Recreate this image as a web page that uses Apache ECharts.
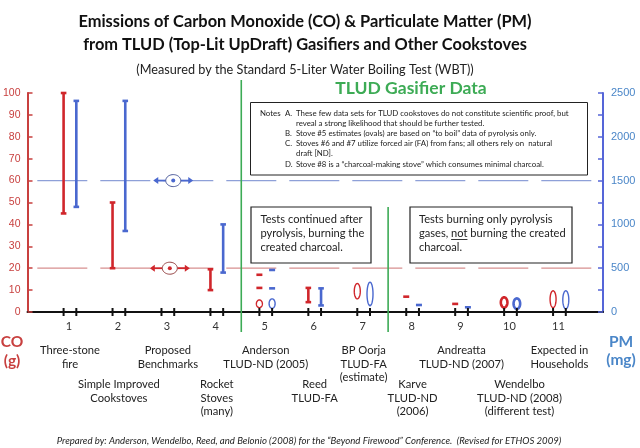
<!DOCTYPE html>
<html><head><meta charset="utf-8">
<script src="https://cdn.jsdelivr.net/npm/echarts@6/dist/echarts.min.js"></script>
<style>html,body{margin:0;padding:0;background:#fff}#c{width:640px;height:448px}</style>
</head><body><div id="c"></div>
<script>
// ---------- data ----------
const categories = ['1','2','3','4','5','6','7','8','9','10','11'];
const stoveNames = ['Three-stone\nfire','Simple Improved\nCookstoves','Proposed\nBenchmarks','Rocket\nStoves\n(many)',
  'Anderson\nTLUD-ND (2005)','Reed\nTLUD-FA','BP Oorja\nTLUD-FA\n(estimate)','Karve\nTLUD-ND\n(2006)',
  'Andreatta\nTLUD-ND (2007)','Wendelbo\nTLUD-ND (2008)\n(different test)','Expected in\nHouseholds'];
const coTicks = [0,10,20,30,40,50,60,70,80,90,100];
const pmTicks = [0,500,1000,1500,2000,2500];
// [stove, low, high]
const coBars = [[1,45,100],[2,20,50],[4,10,19.5],[6,4.5,11]];
const pmBars = [[1,1200,2410],[2,925,2410],[4,450,1000],[6,75,270]];
const coOvals = [[5,2,5.5],[7,6,13],[10,2,6.7],[11,2,9.7]];
const pmOvals = [[5,42,150],[7,72,340],[10,35,155],[11,35,243]];
// [stove, value]
const coDashes = [[5,17],[5,11],[8,7],[9,3.7]];
const pmDashes = [[5,480],[5,270],[8,80],[9,54]];
const coBenchmark = [[3,20]];
const pmBenchmark = [[3,1500]];
const coReference = [[20]];
const pmReference = [[1500]];
const groupDividers = [[4.5],[7.5]];

// ---------- rendering ----------
const RED = '#d0262b', BLUE = '#4a68cf', GREEN = '#3dab55';
const RED_T = '#c8403f', BLUE_T = '#4a86c8';
const FONT = 'Lato, "Open Sans", sans-serif';
const OFF = 0.13, XMIN = 0.133, XMAX = 11.89;

function ellipse(cx, cy, rx, ry){
  const pts=[]; for(let i=0;i<40;i++){const a=i/40*2*Math.PI; pts.push([cx+rx*Math.cos(a), cy+ry*Math.sin(a)]);} return pts;
}
const barR = (color, off) => (p, api) => {
  const x = api.value(0)+off;
  const a = api.coord([x, api.value(1)]), b = api.coord([x, api.value(2)]);
  const ls = {stroke: color, lineWidth: 2.6};
  return {type:'group', children:[
    {type:'line', shape:{x1:a[0],y1:a[1],x2:b[0],y2:b[1]}, style:ls},
    {type:'line', shape:{x1:a[0]-2.8,y1:a[1],x2:a[0]+2.8,y2:a[1]}, style:ls},
    {type:'line', shape:{x1:b[0]-2.8,y1:b[1],x2:b[0]+2.8,y2:b[1]}, style:ls}]};
};
const dashR = (color, off) => (p, api) => {
  const c = api.coord([api.value(0)+off, api.value(1)]);
  return {type:'line', shape:{x1:c[0]-3,y1:c[1],x2:c[0]+3,y2:c[1]}, style:{stroke:color, lineWidth:2.6}};
};
const ovalR = (color, off) => (p, api) => {
  const x = api.value(0)+off;
  const a = api.coord([x, api.value(1)]), b = api.coord([x, api.value(2)]);
  const bold = api.value(0) === 10;
  return {type:'polygon', shape:{points: ellipse(a[0], (a[1]+b[1])/2, bold?3.3:3, (a[1]-b[1])/2)},
    style:{fill:'none', stroke:color, lineWidth: bold?2.6:1.4}};
};
const benchR = (color, outline, off) => (p, api) => {
  const c = api.coord([api.value(0)+off, api.value(1)]);
  const ls = {stroke:color, lineWidth:1.8};
  const x=c[0], y=c[1];
  return {type:'group', children:[
    {type:'line', shape:{x1:x-7.5,y1:y,x2:x-18,y2:y}, style:ls},
    {type:'line', shape:{x1:x+7.5,y1:y,x2:x+18,y2:y}, style:ls},
    {type:'polygon', shape:{points:[[x-20,y],[x-15,y-3.5],[x-15,y+3.5]]}, style:{fill:color}},
    {type:'polygon', shape:{points:[[x+20,y],[x+15,y-3.5],[x+15,y+3.5]]}, style:{fill:color}},
    {type:'polygon', shape:{points:ellipse(x,y,7.5,6)}, style:{fill:'#fff', stroke:outline, lineWidth:0.9}},
    {type:'circle', shape:{cx:x, cy:y, r:2}, style:{fill:color}}]};
};
const refR = (color) => (p, api) => {
  const a = api.coord([XMIN+0.2, api.value(0)]), b = api.coord([XMAX, api.value(0)]);
  return {type:'line', shape:{x1:a[0],y1:a[1],x2:b[0],y2:b[1]}, style:{stroke:color, lineWidth:1.3, lineDash:[50,13]}};
};
const dividerR = (p, api) => {
  const c = api.coord([api.value(0), 0]);
  const top = p.dataIndex === 0 ? 80 : 207;
  return {type:'line', shape:{x1:c[0],y1:top,x2:c[0],y2:c[1]+20}, style:{stroke:GREEN, lineWidth:1.6}};
};
const xLabelR = (p, api) => {
  const i = p.dataIndex, v = i+1;
  const a = api.coord([v-OFF, 0]), b = api.coord([v+OFF, 0]);
  const y = a[1];
  const ls = {stroke:'#111', lineWidth:2};
  const nameX = (a[0]+b[0])/2 + (i===9 ? 9 : 0);
  const nameTop = (i%2===0) ? 343.5 : 377.5;
  return {type:'group', children:[
    {type:'line', shape:{x1:a[0],y1:y-4,x2:a[0],y2:y+4}, style:ls},
    {type:'line', shape:{x1:b[0],y1:y-4,x2:b[0],y2:y+4}, style:ls},
    {type:'text', style:{text:categories[i], x:(a[0]+b[0])/2-1, y:y+14, align:'center', verticalAlign:'middle',
      fill:'#333', fontSize:11, fontFamily:FONT}},
    {type:'text', style:{text:stoveNames[i], x:nameX, y:nameTop, align:'center', verticalAlign:'top',
      fill:'#222', fontSize:11.2, fontFamily:FONT, lineHeight:13.6}}]};
};

function cs(data, yIdx, render, encode, z){
  return {type:'custom', data, yAxisIndex:yIdx, renderItem:render, encode: encode || {x:0, y:1},
    silent:true, animation:false, clip:false, z: z||2};
}

// measure for underline
const mctx = document.createElement('canvas').getContext('2d');
const BOXF = 11.1;
mctx.font = BOXF + 'px ' + FONT;
const wGases = mctx.measureText('gases, ').width, wNot = mctx.measureText('not').width;

function txt(text, x, y, o){
  return {type:'text', silent:true, z:10, style:Object.assign({text, x, y, fill:'#222', fontFamily:FONT, fontSize:11,
    align:'left', verticalAlign:'middle'}, o||{})};
}
const NF = 7.85;
const graphics = [
  txt('Emissions of Carbon Monoxide (CO) & Particulate Matter (PM)', 305, 22, {align:'center', fontSize:16.4, fontWeight:'bold', fill:'#111'}),
  txt('from TLUD (Top-Lit UpDraft) Gasifiers and Other Cookstoves', 305, 45, {align:'center', fontSize:16.4, fontWeight:'bold', fill:'#111'}),
  txt('(Measured by the Standard 5-Liter Water Boiling Test (WBT))', 305, 70, {align:'center', fontSize:12.7, fill:'#222'}),
  txt('TLUD Gasifier Data', 411, 88, {align:'center', fontSize:17.5, fontWeight:'bold', fill:GREEN}),
  {type:'rect', shape:{x:250.5, y:102.5, width:337, height:72.5}, style:{fill:'#fff', stroke:'#222', lineWidth:1}, z:5, silent:true},
  txt('Notes', 260, 113.3, {fontSize:NF}),
  txt('A.', 285, 113.3, {fontSize:NF}),
  txt('These few data sets for TLUD cookstoves do not constitute scientific proof, but', 296, 113.3, {fontSize:NF}),
  txt('reveal a strong likelihood that should be further tested.', 296, 123.7, {fontSize:NF}),
  txt('B.', 285, 133.5, {fontSize:NF}),
  txt('Stove #5 estimates (ovals) are based on \u201cto boil\u201d data of pyrolysis only.', 296, 133.5, {fontSize:NF}),
  txt('C.', 285, 143.5, {fontSize:NF}),
  txt('Stoves #6 and #7 utilize forced air (FA) from fans; all others rely on  natural', 296, 143.5, {fontSize:NF}),
  txt('draft [ND].', 296, 153.8, {fontSize:NF}),
  txt('D.', 285, 164.7, {fontSize:NF}),
  txt('Stove #8 is a \u201ccharcoal-making stove\u201d which consumes minimal charcoal.', 296, 164.7, {fontSize:NF}),
  {type:'rect', shape:{x:251, y:207, width:120, height:56}, style:{fill:'#fff', stroke:'#222', lineWidth:1.2}, z:5, silent:true},
  txt('Tests continued after', 260.5, 219, {fontSize:BOXF}),
  txt('pyrolysis, burning the', 260.5, 233, {fontSize:BOXF}),
  txt('created charcoal.', 260.5, 247, {fontSize:BOXF}),
  {type:'rect', shape:{x:410, y:207, width:162, height:56}, style:{fill:'#fff', stroke:'#222', lineWidth:1.2}, z:5, silent:true},
  txt('Tests burning only pyrolysis', 419, 219, {fontSize:BOXF}),
  txt('gases, not burning the created', 419, 233, {fontSize:BOXF}),
  txt('charcoal.', 419, 247, {fontSize:BOXF}),
  {type:'line', z:10, silent:true, shape:{x1:419+wGases, y1:239.5, x2:419+wGases+wNot, y2:239.5}, style:{stroke:'#222', lineWidth:0.9}},
  txt('CO', 12, 342, {align:'center', fontSize:15.5, fontWeight:'bold', fill:RED_T}),
  txt('(g)', 12, 361, {align:'center', fontSize:15.5, fontWeight:'bold', fill:RED_T}),
  txt('PM', 621, 342, {align:'center', fontSize:15.5, fontWeight:'bold', fill:BLUE_T}),
  txt('(mg)', 621, 360, {align:'center', fontSize:15.5, fontWeight:'bold', fill:BLUE_T}),
  txt('Prepared by: Anderson, Wendelbo, Reed, and Belonio (2008) for the \u201cBeyond Firewood\u201d Conference.  (Revised for ETHOS 2009)',
    309, 441, {align:'center', fontSize:9.6, fontStyle:'italic', fill:'#222'})
];

const chart = echarts.init(document.getElementById('c'), null, {renderer:'canvas'});
chart.setOption({
  animation:false,
  backgroundColor:'#fff',
  grid:{left:27, right:37, top:93, bottom:136},
  xAxis:{type:'value', min:XMIN, max:XMAX, axisLine:{show:true, onZero:false, lineStyle:{color:'#111', width:2}},
    axisTick:{show:false}, axisLabel:{show:false}, splitLine:{show:false}},
  yAxis:[
    {type:'value', min:coTicks[0], max:coTicks[coTicks.length-1], interval:coTicks[1]-coTicks[0], position:'left',
      axisLine:{show:true, lineStyle:{color:RED_T, width:2}},
      axisTick:{show:true, inside:true, length:5, lineStyle:{color:RED_T, width:1.5}},
      axisLabel:{color:RED_T, fontSize:10.5, fontFamily:'"Liberation Sans", Arial, sans-serif', margin:7},
      splitLine:{show:false}},
    {type:'value', min:pmTicks[0], max:pmTicks[pmTicks.length-1], interval:(pmTicks[1]-pmTicks[0])/2, position:'right',
      axisLine:{show:true, lineStyle:{color:'#5565d8', width:2}},
      axisTick:{show:true, inside:true, length:5, lineStyle:{color:'#5565d8', width:1.5}},
      axisLabel:{color:BLUE_T, fontSize:11, fontFamily:'"Liberation Sans", Arial, sans-serif', margin:8,
        formatter:v => pmTicks.indexOf(v) >= 0 ? String(v) : ''},
      splitLine:{show:false}}
  ],
  series:[
    cs(coReference, 0, refR('#d89090'), {y:0}, 1),
    cs(pmReference, 1, refR('#8ea0d8'), {y:0}, 1),
    cs(groupDividers, 0, dividerR, {x:0}, 1),
    cs(categories.map((c,i)=>[i+1]), 0, xLabelR, {x:0}, 3),
    cs(coBars, 0, barR(RED, -OFF), {x:0, y:[1,2]}),
    cs(pmBars, 1, barR(BLUE, OFF), {x:0, y:[1,2]}),
    cs(coOvals, 0, ovalR(RED, -OFF), {x:0, y:[1,2]}),
    cs(pmOvals, 1, ovalR(BLUE, OFF), {x:0, y:[1,2]}),
    cs(coDashes, 0, dashR(RED, -OFF)),
    cs(pmDashes, 1, dashR(BLUE, OFF)),
    cs(coBenchmark, 0, benchR(RED, '#8a3030', 0.04), null, 4),
    cs(pmBenchmark, 1, benchR(BLUE, '#3a4a90', 0.11), null, 4)
  ],
  graphic: graphics
});
</script></body></html>
